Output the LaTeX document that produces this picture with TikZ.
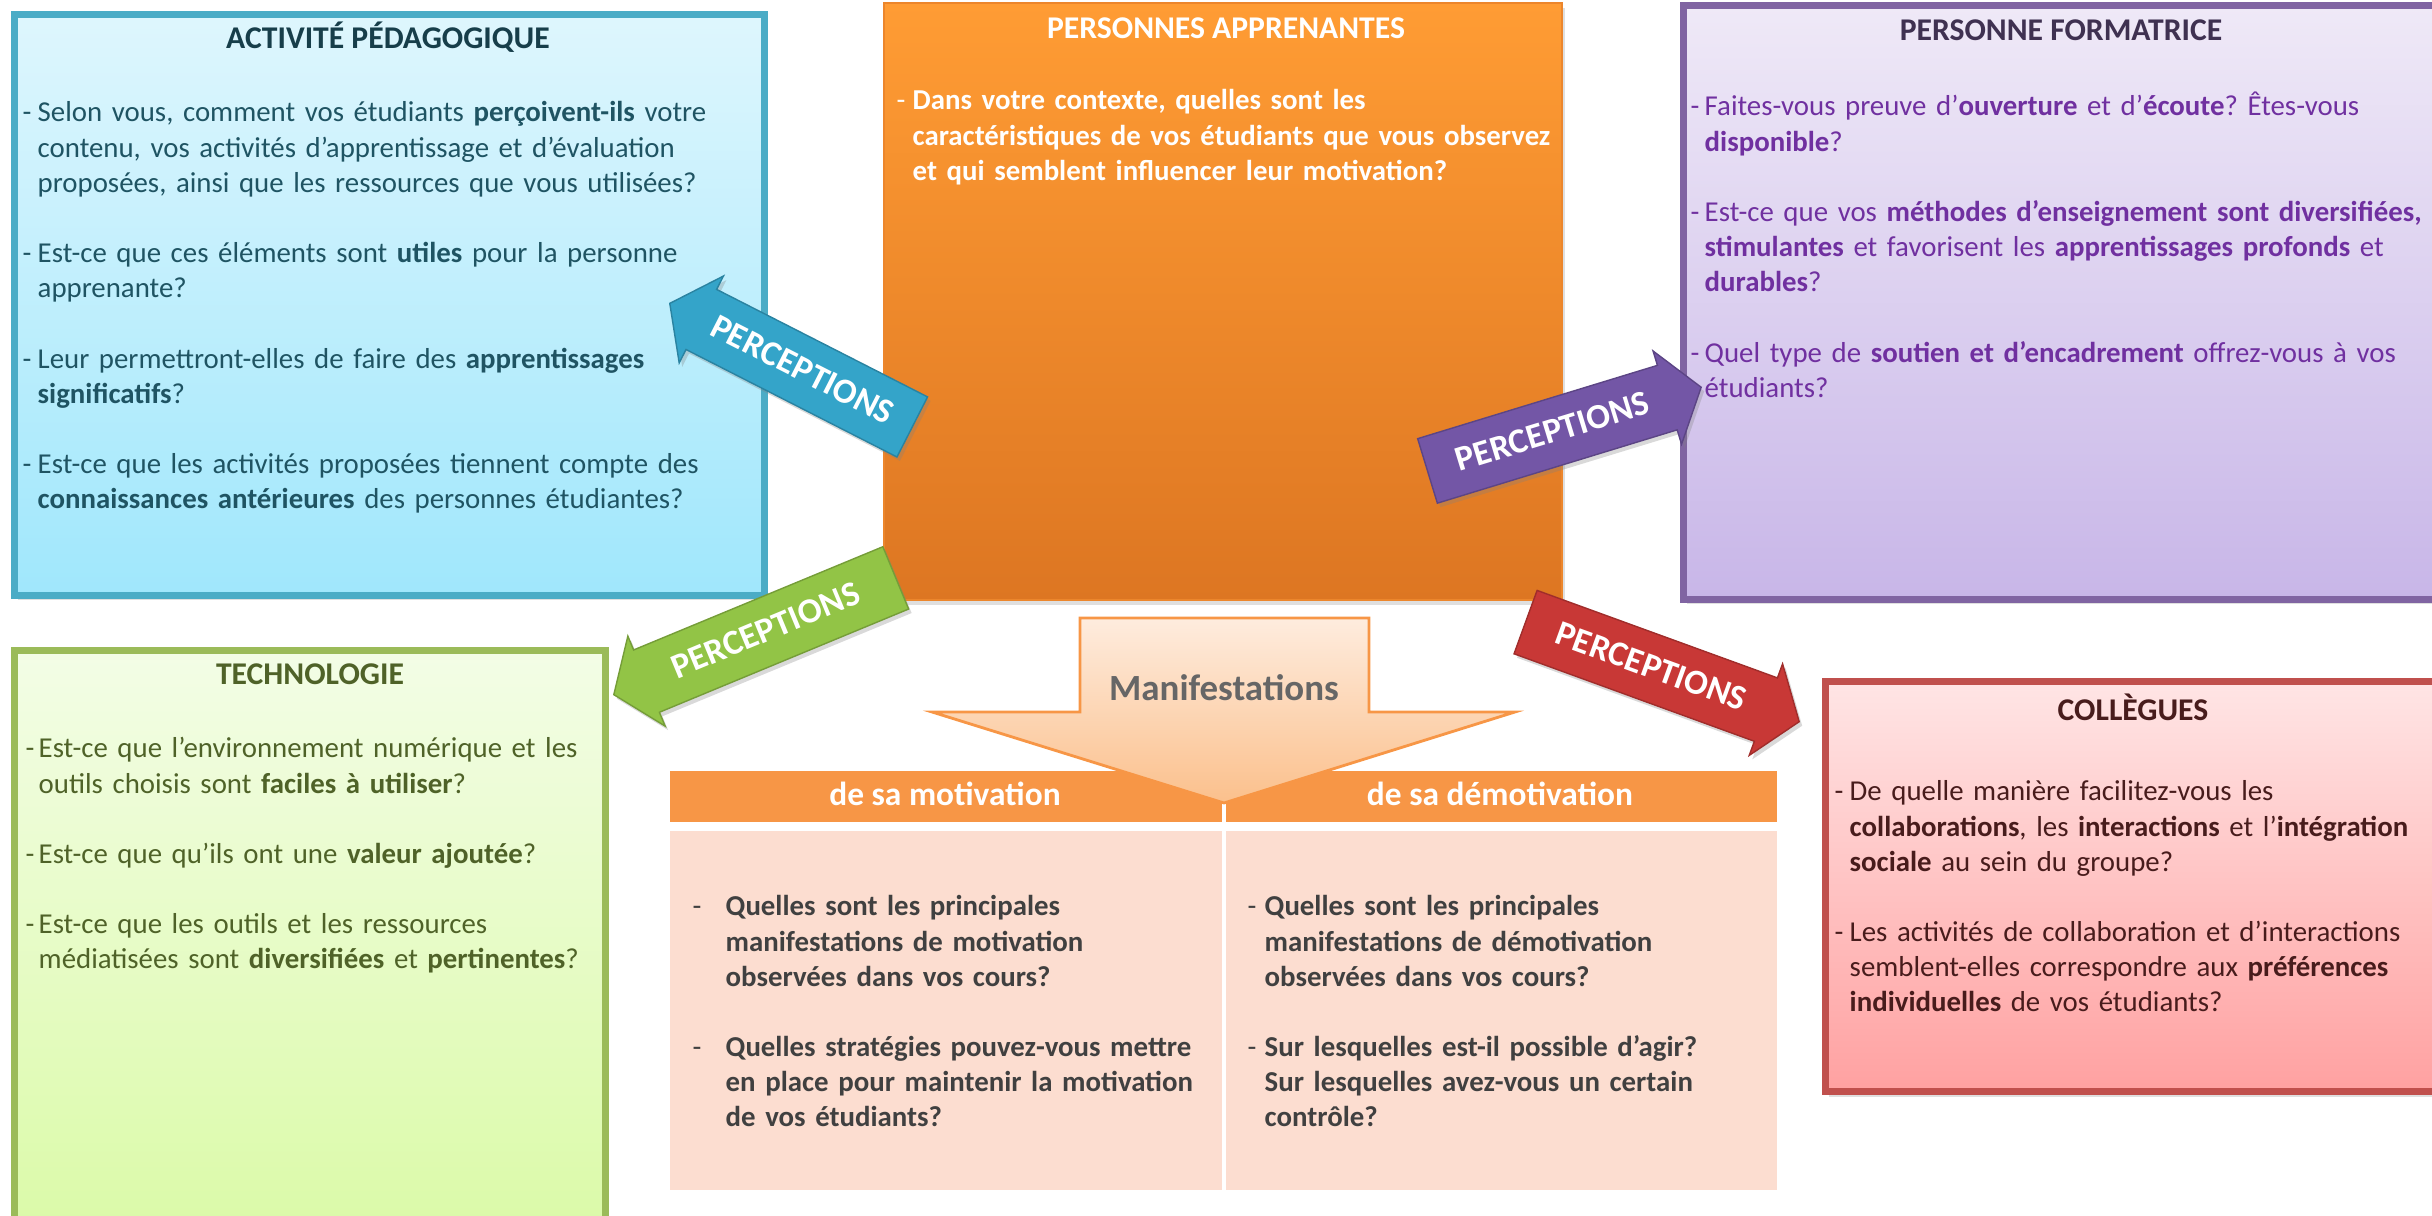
\documentclass[tikz,border=0pt]{standalone}
\usepackage{fontspec}
\setmainfont{Carlito}
\usepackage{tikz}
\usetikzlibrary{shapes.arrows}
\usetikzlibrary{shadows}

\definecolor{bleutrait}{RGB}{75,172,198}
\definecolor{bleuhaut}{RGB}{222,246,253}
\definecolor{bleubas}{RGB}{160,231,252}
\definecolor{bleutexte}{RGB}{31,84,99}
\definecolor{bleutitre}{RGB}{23,62,74}
\definecolor{bleufleche}{RGB}{52,164,201}
\definecolor{orangehaut}{RGB}{255,156,52}
\definecolor{orangebas}{RGB}{221,118,34}
\definecolor{orangetrait}{RGB}{236,134,44}
\definecolor{violettrait}{RGB}{128,100,162}
\definecolor{violethaut}{RGB}{239,233,247}
\definecolor{violetbas}{RGB}{200,182,232}
\definecolor{violettexte}{RGB}{112,48,160}
\definecolor{violettitre}{RGB}{63,49,81}
\definecolor{violetfleche}{RGB}{115,86,166}
\definecolor{verttrait}{RGB}{155,187,89}
\definecolor{verthaut}{RGB}{243,253,230}
\definecolor{vertbas}{RGB}{218,250,166}
\definecolor{verttexte}{RGB}{79,98,40}
\definecolor{vertfleche}{RGB}{146,196,70}
\definecolor{rougetrait}{RGB}{192,80,77}
\definecolor{rougehaut}{RGB}{255,229,229}
\definecolor{rougebas}{RGB}{255,161,161}
\definecolor{rougetexte}{RGB}{72,28,28}
\definecolor{rougefleche}{RGB}{200,56,54}
\definecolor{entete}{RGB}{247,150,70}
\definecolor{cellule}{RGB}{252,221,208}
\definecolor{manifhaut}{RGB}{254,236,222}
\definecolor{manifbas}{RGB}{251,192,140}
\definecolor{grisfonce}{RGB}{64,64,64}

\hyphenpenalty=10000
\exhyphenpenalty=10000
\frenchspacing
\newcommand{\tiret}[1][0.15cm]{\hangindent=#1\hangafter=1\noindent\makebox[#1][l]{\mdseries -}\ignorespaces}

\begin{document}
\begin{tikzpicture}[x=0.01cm,y=-0.01cm,
  boite/.style={line width=2pt,
    drop shadow={shadow xshift=0.03cm,shadow yshift=-0.05cm,opacity=0.25}},
  titre/.style={anchor=base,inner sep=0pt,
    font=\fontsize{9}{11}\selectfont\bfseries},
  corps/.style={anchor=base west,inner sep=0pt,align=left,text width=#1,
    font=\fontsize{8.2}{10}\selectfont},
  perception/.style={single arrow,single arrow head extend=0.15cm,
    single arrow tip angle=108,inner xsep=0.1cm,inner ysep=0.17cm,
    text height=0.26cm,text depth=0.06cm,fill=#1,draw=#1!80!black,
    line width=0.4pt,text=white,anchor=tip,
    font=\fontsize{10}{12}\selectfont\bfseries,
    drop shadow={shadow xshift=0.03cm,shadow yshift=-0.04cm,opacity=0.3}},
  entetecase/.style={anchor=base,inner sep=0pt,text=white,
    font=\fontsize{9.5}{11}\selectfont\bfseries}]
\useasboundingbox
  (0,0)
  rectangle
  (2432,1216);
\begin{scope}
  \clip
    (0,0)
    rectangle
    (2432,1216);
  \draw[boite,draw=bleutrait,top color=bleuhaut,bottom color=bleubas]
    (14.5,14.5)
    rectangle
    (764.5,595.5);
  \draw[boite,draw=orangetrait,line width=0.6pt,top color=orangehaut,bottom color=orangebas]
    (884,3)
    rectangle
    (1562,600);
  \draw[boite,draw=violettrait,top color=violethaut,bottom color=violetbas]
    (1683.5,5.5)
    rectangle
    (2450,599.5);
  \draw[boite,draw=verttrait,top color=verthaut,bottom color=vertbas]
    (14.5,650.5)
    rectangle
    (605.5,1250);
  \draw[boite,draw=rougetrait,top color=rougehaut,bottom color=rougebas]
    (1825.5,681.5)
    rectangle
    (2450,1091.5);
\end{scope}
  \node[titre,bleutitre] (titreactivite)
    at (388,49)
    {ACTIVITÉ PÉDAGOGIQUE};
  \node[corps=7.3cm,bleutexte] (texteactivite)
    at (22,122)
    {\setlength{\parskip}{10pt}%
    \tiret Selon vous, comment vos étudiants \textbf{perçoivent-ils} votre\newline
    contenu, vos activités d’apprentissage et d’évaluation\newline
    proposées, ainsi que les ressources que vous utilisées?\par
    \tiret Est-ce que ces éléments sont \textbf{utiles} pour la personne\newline
    apprenante?\par
    \tiret Leur permettront-elles de faire des \textbf{apprentissages}\newline
    \textbf{significatifs}?\par
    \tiret Est-ce que les activités proposées tiennent compte des\newline
    \textbf{connaissances antérieures} des personnes étudiantes?\par};
  \node[titre,white] (titreapprenants)
    at (1226,39)
    {PERSONNES APPRENANTES};
  \node[corps=6.6cm,white,font=\fontsize{8.2}{10}\selectfont\bfseries] (texteapprenants)
    at (896,110)
    {\tiret[0.16cm] Dans votre contexte, quelles sont les\newline
    caractéristiques de vos étudiants que vous observez\newline
    et qui semblent influencer leur motivation?\par};
  \node[titre,violettitre] (titreformatrice)
    at (2061,41)
    {PERSONNE FORMATRICE};
  \node[corps=7.8cm,violettexte] (texteformatrice)
    at (1690,116)
    {\setlength{\parskip}{10pt}%
    \tiret[0.14cm] Faites-vous preuve d’\textbf{ouverture} et d’\textbf{écoute}? Êtes-vous\newline
    \textbf{disponible}?\par
    \tiret[0.14cm] Est-ce que vos \textbf{méthodes d’enseignement sont diversifiées,}\newline
    \textbf{stimulantes} et favorisent les \textbf{apprentissages profonds} et\newline
    \textbf{durables}?\par
    \tiret[0.14cm] Quel type de \textbf{soutien et d’encadrement} offrez-vous à vos\newline
    étudiants?\par};
  \node[titre,verttexte] (titretechnologie)
    at (310,685)
    {TECHNOLOGIE};
  \node[corps=5.7cm,verttexte] (textetechnologie)
    at (25,758)
    {\setlength{\parskip}{10pt}%
    \tiret[0.13cm] Est-ce que l’environnement numérique et les\newline
    outils choisis sont \textbf{faciles à utiliser}?\par
    \tiret[0.13cm] Est-ce que qu’ils ont une \textbf{valeur ajoutée}?\par
    \tiret[0.13cm] Est-ce que les outils et les ressources\newline
    médiatisées sont \textbf{diversifiées} et \textbf{pertinentes}?\par};
  \node[titre,rougetexte] (titrecollegues)
    at (2133,721)
    {COLLÈGUES};
  \node[corps=5.9cm,rougetexte] (textecollegues)
    at (1834,801)
    {\setlength{\parskip}{10pt}%
    \tiret De quelle manière facilitez-vous les\newline
    \textbf{collaborations}, les \textbf{interactions} et l’\textbf{intégration}\newline
    \textbf{sociale} au sein du groupe?\par
    \tiret Les activités de collaboration et d’interactions\newline
    semblent-elles correspondre aux \textbf{préférences}\newline
    \textbf{individuelles} de vos étudiants?\par};
  \fill[entete]
    (670,771)
    rectangle
    (1222,822);
  \fill[entete]
    (1226,771)
    rectangle
    (1777,822);
  \fill[cellule]
    (670,831)
    rectangle
    (1222,1190);
  \fill[cellule]
    (1226,831)
    rectangle
    (1777,1190);
  \node[corps=5.2cm,grisfonce,font=\fontsize{8.2}{10}\selectfont\bfseries] (textemotivation)
    at (692,916)
    {\setlength{\parskip}{10pt}%
    \tiret[0.33cm] Quelles sont les principales\newline
    manifestations de motivation\newline
    observées dans vos cours?\par
    \tiret[0.33cm] Quelles stratégies pouvez-vous mettre\newline
    en place pour maintenir la motivation\newline
    de vos étudiants?\par};
  \node[corps=5.2cm,grisfonce,font=\fontsize{8.2}{10}\selectfont\bfseries] (textedemotivation)
    at (1247,916)
    {\setlength{\parskip}{10pt}%
    \tiret[0.17cm] Quelles sont les principales\newline
    manifestations de démotivation\newline
    observées dans vos cours?\par
    \tiret[0.17cm] Sur lesquelles est-il possible d’agir?\newline
    Sur lesquelles avez-vous un certain\newline
    contrôle?\par};
  \draw[draw=entete,line width=0.8pt,top color=manifhaut,bottom color=manifbas]
    (1080,618)
    -- (1369,618)
    -- (1369,712)
    -- (1515,712)
    -- (1224,803)
    -- (932,712)
    -- (1080,712)
    -- cycle;
  \node[anchor=base,inner sep=0pt,text=black!60,font=\fontsize{10.5}{12}\selectfont\bfseries] (manifestations)
    at (1224,701)
    {Manifestations};
  \node[entetecase] (motivation)
    at (945,806)
    {de sa motivation};
  \node[entetecase] (demotivation)
    at (1500,806)
    {de sa démotivation};
  \node[perception=bleufleche,rotate=-27,shape border rotate=180,minimum height=2.72cm] (percactivite)
    at (669,303)
    {PERCEPTIONS};
  \node[perception=violetfleche,rotate=17,minimum height=2.86cm] (percformatrice)
    at (1702,387)
    {PERCEPTIONS};
  \node[perception=vertfleche,rotate=22.5,shape border rotate=180,minimum height=3.05cm] (perctechnologie)
    at (613,695)
    {PERCEPTIONS};
  \node[perception=rougefleche,rotate=-20,minimum height=2.91cm] (perccollegues)
    at (1800,722)
    {PERCEPTIONS};
\end{tikzpicture}
\end{document}
